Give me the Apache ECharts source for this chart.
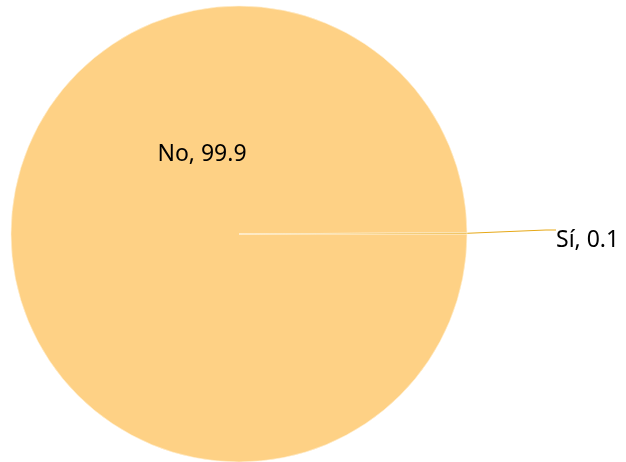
<!DOCTYPE html>
<html><head><meta charset="utf-8">
<script src="https://cdn.jsdelivr.net/npm/echarts@6/dist/echarts.min.js"></script>
<style>html,body{margin:0;padding:0;background:#fff}#c{width:626px;height:462px}</style>
</head><body><div id="c"></div>
<script>
const categories = ['No', 'Sí'];
const values = [99.9, 0.1];
const colors = ['#FED185', '#E9AE2A'];

const chart = echarts.init(document.getElementById('c'), null, {renderer: 'canvas'});
chart.setOption({
  animation: false,
  series: [{
    type: 'pie',
    center: [239, 234],
    radius: [0, 228],
    startAngle: 0,
    clockwise: true,
    avoidLabelOverlap: false,
    itemStyle: {borderWidth: 0.6, borderColor: '#FFF3DC'},
    data: categories.map((c, i) => ({name: c, value: values[i], itemStyle: {color: colors[i]}})),
    label: {
      show: true,
      formatter: p => (p.dataIndex === 1 ? '\n' : '') + p.name + ', ' + p.value,
      color: '#000',
      fontFamily: 'Noto Sans, Open Sans, sans-serif',
      fontSize: 23,
      lineHeight: 20
    },
    labelLine: {show: true, lineStyle: {color: '#E6A817', width: 1}, length: 10, length2: 10},
    labelLayout: function (p) {
      if (p.dataIndex === 0) return {x: 202, y: 154, align: 'center', verticalAlign: 'middle'};
      return {x: 556, y: 230, align: 'left', verticalAlign: 'middle'};
    }
  }]
});
</script></body></html>
